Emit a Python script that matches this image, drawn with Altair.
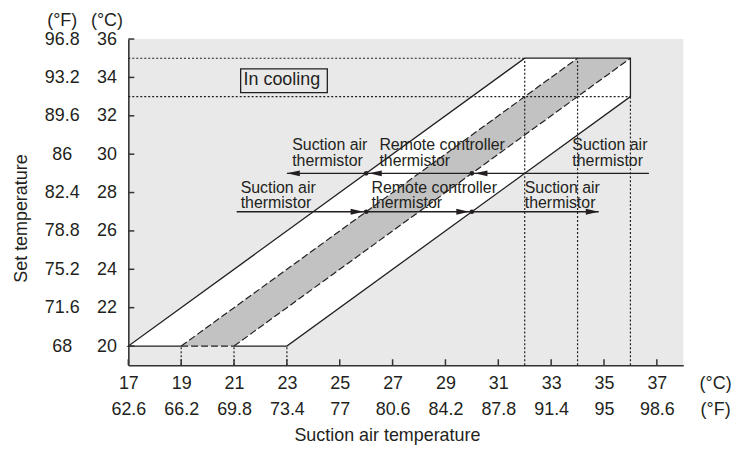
import altair as alt
import pandas as pd

# ---------------- axis values ----------------
c_ticks_x = [17, 19, 21, 23, 25, 27, 29, 31, 33, 35, 37]
f_labels_x = ["62.6", "66.2", "69.8", "73.4", "77", "80.6", "84.2", "87.8", "91.4", "95", "98.6"]
c_ticks_y = [20, 22, 24, 26, 28, 30, 32, 34, 36]
f_labels_y = ["68", "71.6", "75.2", "78.8", "82.4", "86", "89.6", "93.2", "96.8"]

# ---------------- bands ----------------
band_x = [17, 23, 32, 36]
band_top = [20, 26, 35, 35]
band_bottom = [20, 20, 29, 33]

gray_x = [19, 21, 34, 36]
gray_top = [20, 22, 35, 35]
gray_bottom = [20, 20, 33, 35]

outline_x = [19, 17, 32, 36, 36, 23, 21]
outline_y = [20, 20, 35, 35, 33, 20, 20]

dash_x = [19, 21, 19]
dash_y = [20, 20, 20]
dash_x2 = [34, 36, 21]
dash_y2 = [35, 35, 20]

ref_x = [17, 17, 32, 34, 36, 19, 21, 23]
ref_y = [35, 33, 19, 19, 19, 19, 19, 19]
ref_x2 = [32, 36, 32, 34, 36, 19, 21, 23]
ref_y2 = [35, 33, 35, 35, 33, 20, 20, 20]

# ---------------- arrows ----------------
arrow_y = [29, 27]
arrow_from = [36.7, 21.1]
arrow_to = [23.0, 34.8]
head_x = [23.0, 26.1, 30.1, 25.9, 29.9, 34.8]
head_y = [29, 29, 29, 27, 27, 27]
head_dir = ["left", "left", "left", "right", "right", "right"]
point_x = [26, 30, 26, 30]
point_y = [29, 29, 27, 27]

label_text = ["Suction air\nthermistor", "Remote controller\nthermistor", "Suction air\nthermistor",
              "Suction air\nthermistor", "Remote controller\nthermistor", "Suction air\nthermistor"]
label_x = [23.2, 26.5, 33.8, 21.25, 26.2, 32.0]
label_y = [30.46, 30.46, 30.46, 28.26, 28.26, 28.26]

box_text = ["In cooling"]
box_x, box_x2, box_y, box_y2 = [21.25], [24.53], [34.45], [33.21]
box_text_x, box_text_y = [21.36], [33.85]

INK = "#231f20"
FONT = "Liberation Sans"

X_MIN, X_MAX, Y_MIN, Y_MAX = 17, 38, 19, 36
W, H = 558, 328
TICK_PX = 6

xs = alt.Scale(domain=[X_MIN, X_MAX], nice=False, zero=False)
ys = alt.Scale(domain=[Y_MIN, Y_MAX], nice=False, zero=False)


def X(f):
    return alt.X(f, type="quantitative", scale=xs, axis=None)


def Y(f):
    return alt.Y(f, type="quantitative", scale=ys, axis=None)


band_df = pd.DataFrame({"x": band_x, "top": band_top, "bottom": band_bottom})
gray_df = pd.DataFrame({"x": gray_x, "top": gray_top, "bottom": gray_bottom})
outline_df = pd.DataFrame({"x": outline_x, "y": outline_y, "i": list(range(len(outline_x)))})
dash_df = pd.DataFrame({"x": dash_x, "y": dash_y, "x2": dash_x2, "y2": dash_y2})
ref_df = pd.DataFrame({"x": ref_x, "y": ref_y, "x2": ref_x2, "y2": ref_y2})
arrow_df = pd.DataFrame({"y": arrow_y, "x": arrow_from, "x2": arrow_to})
head_df = pd.DataFrame({"x": head_x, "y": head_y, "d": head_dir})
point_df = pd.DataFrame({"x": point_x, "y": point_y})
label_df = pd.DataFrame({"t": label_text, "x": label_x, "y": label_y})
box_df = pd.DataFrame({"x": box_x, "x2": box_x2, "y": box_y, "y2": box_y2})
boxt_df = pd.DataFrame({"t": box_text, "x": box_text_x, "y": box_text_y})
xt_df = pd.DataFrame({"x": c_ticks_x, "y": Y_MIN, "y2": Y_MIN + TICK_PX * (Y_MAX - Y_MIN) / H})
yt_df = pd.DataFrame({"y": c_ticks_y, "x": X_MIN, "x2": X_MIN + TICK_PX * (X_MAX - X_MIN) / W})
dummy = pd.DataFrame({"x": [X_MIN, X_MAX], "y": [Y_MIN, Y_MAX]})

white_band = alt.Chart(band_df).mark_area(fill="white", opacity=1).encode(
    x=X("x"), y=Y("top"), y2="bottom")
gray_band = alt.Chart(gray_df).mark_area(fill="#c2c2c2", opacity=1).encode(
    x=X("x"), y=Y("top"), y2="bottom")
refs = alt.Chart(ref_df).mark_rule(color=INK, strokeWidth=1.2, strokeDash=[2, 2]).encode(
    x=X("x"), y=Y("y"), x2="x2", y2="y2")
dashes = alt.Chart(dash_df).mark_rule(color=INK, strokeWidth=1.2, strokeDash=[7, 3]).encode(
    x=X("x"), y=Y("y"), x2="x2", y2="y2")
outline = alt.Chart(outline_df).mark_line(color=INK, strokeWidth=1.3).encode(
    x=X("x"), y=Y("y"), order="i:Q")
arrows = alt.Chart(arrow_df).mark_rule(color=INK, strokeWidth=1.3).encode(
    x=X("x"), x2="x2", y=Y("y"))
heads = alt.Chart(head_df).mark_point(filled=True, opacity=1, fill=INK, strokeWidth=0, size=169).encode(
    x=X("x"), y=Y("y"),
    shape=alt.Shape("d:N", scale=alt.Scale(domain=["left", "right"],
                                             range=["M0,0L2,-0.45L2,0.45Z", "M0,0L-2,-0.45L-2,0.45Z"]),
                    legend=None))
points = alt.Chart(point_df).mark_circle(color=INK, opacity=1, size=22).encode(x=X("x"), y=Y("y"))
labels = alt.Chart(label_df).mark_text(align="left", baseline="middle", fontSize=16, lineBreak="\n",
                                       lineHeight=16, color=INK, font=FONT).encode(
    x=X("x"), y=Y("y"), text="t:N")
box = alt.Chart(box_df).mark_rect(fill=None, fillOpacity=0, stroke=INK, strokeWidth=1.3).encode(
    x=X("x"), x2="x2", y=Y("y"), y2="y2")
box_label = alt.Chart(boxt_df).mark_text(align="left", baseline="middle", fontSize=18, color=INK, font=FONT).encode(
    x=X("x"), y=Y("y"), text="t:N")
xticks = alt.Chart(xt_df).mark_rule(color="#333", strokeWidth=1.5).encode(
    x=X("x"), y=Y("y"), y2="y2")
yticks = alt.Chart(yt_df).mark_rule(color="#333", strokeWidth=1.5).encode(
    y=Y("y"), x=X("x"), x2="x2")

common = dict(grid=False, ticks=False, tickSize=0, labelFontSize=18, labelColor=INK, labelFont=FONT,
              titleFontSize=18, titleFont=FONT, titleColor=INK, titleFontWeight="normal",
              labelOverlap=False, labelFlush=False)

c_axes = alt.Chart(dummy).mark_point(opacity=0).encode(
    x=alt.X("x:Q", scale=xs, axis=alt.Axis(
        orient="bottom", values=c_ticks_x, domain=True, domainColor="#333", domainWidth=1.6,
        labelPadding=18, labelBaseline="middle", title="(°C)", titleX=590, titleY=18,
        titleAngle=0, titleBaseline="middle", titleAlign="center", **common)),
    y=alt.Y("y:Q", scale=ys, axis=alt.Axis(
        orient="left", values=c_ticks_y, domain=True, domainColor="#333", domainWidth=1.6,
        labelPadding=22, labelAlign="center", labelBaseline="middle", title="(°C)", titleX=-22, titleY=-19,
        titleAngle=0, titleBaseline="middle", titleAlign="center", **common)),
)

fx_expr = "[" + ",".join("'%s'" % s for s in f_labels_x) + "][indexof([" + ",".join(str(v) for v in c_ticks_x) + "], datum.value)]"
fy_expr = "[" + ",".join("'%s'" % s for s in f_labels_y) + "][indexof([" + ",".join(str(v) for v in c_ticks_y) + "], datum.value)]"

f_axes = alt.Chart(dummy).mark_point(opacity=0).encode(
    x=alt.X("x:Q", scale=xs, axis=alt.Axis(
        orient="bottom", values=c_ticks_x, domain=False, labelExpr=fx_expr,
        labelPadding=45, labelBaseline="middle", title="(°F)", titleX=590, titleY=45,
        titleAngle=0, titleBaseline="middle", titleAlign="center", **common)),
    y=alt.Y("y:Q", scale=ys, axis=alt.Axis(
        orient="left", values=c_ticks_y, domain=False, labelExpr=fy_expr,
        labelPadding=67, labelAlign="center", labelBaseline="middle", title="(°F)", titleX=-67, titleY=-19,
        titleAngle=0, titleBaseline="middle", titleAlign="center", **common)),
)

t_axes = alt.Chart(dummy).mark_point(opacity=0).encode(
    x=alt.X("x:Q", scale=xs, axis=alt.Axis(
        orient="bottom", values=c_ticks_x, domain=False, labels=False,
        title="Suction air temperature", titleX=260, titleY=71,
        titleAngle=0, titleBaseline="middle", titleAlign="center", **common)),
    y=alt.Y("y:Q", scale=ys, axis=alt.Axis(
        orient="left", values=c_ticks_y, domain=False, labels=False,
        title="Set temperature", titleX=-107, titleY=180,
        titleAngle=270, titleBaseline="middle", titleAlign="center", **common)),
)

chart = alt.layer(
    white_band, gray_band, refs, dashes, outline, box, box_label, arrows, heads, points,
    labels, xticks, yticks, c_axes, f_axes, t_axes
).resolve_scale(x="independent", y="independent").properties(
    width=W, height=H,
    padding={"left": 121, "top": 30, "right": 50, "bottom": 80},
    autosize=alt.AutoSizeParams(type="none"),
).configure(font=FONT).configure_view(fill="#e9e9e9", stroke=None)

chart.save("out.html", embed_options={"renderer": "svg", "actions": False})
